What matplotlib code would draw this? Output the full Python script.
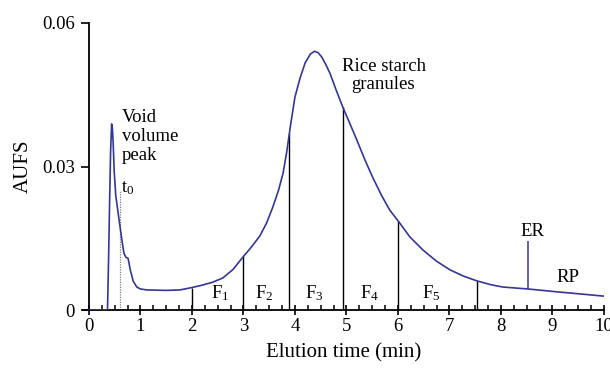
import matplotlib
matplotlib.use("Agg")
import matplotlib.pyplot as plt
from matplotlib.ticker import MultipleLocator

plt.rcParams.update({
    "font.family": ["Liberation Serif", "DejaVu Serif"],
    "mathtext.fontset": "custom",
    "mathtext.rm": "Liberation Serif",
    "mathtext.it": "Liberation Serif:italic",
    "font.size": 13.5,
})

# elution profile (min, AUFS)
time = [0.0, 0.36, 0.38, 0.40, 0.42, 0.44, 0.455, 0.47, 0.49, 0.52, 0.57,
        0.64, 0.68, 0.72, 0.76, 0.80, 0.86, 0.93, 1.0, 1.12, 1.5, 1.77,
        2.0, 2.2, 2.4, 2.6, 2.8, 3.0, 3.15, 3.32, 3.45, 3.57, 3.68, 3.77,
        3.84, 3.92, 4.0, 4.1, 4.2, 4.3, 4.38, 4.45, 4.52, 4.6, 4.68, 4.8,
        4.93, 5.05, 5.2, 5.35, 5.52, 5.68, 5.84, 6.02, 6.23, 6.49, 6.75,
        7.01, 7.27, 7.53, 7.8, 8.04, 8.52, 9.09, 9.6, 10.0]
aufs = [0.0, 0.0, 0.010, 0.022, 0.033, 0.0389, 0.038, 0.035, 0.029, 0.024,
        0.020, 0.0146, 0.0118, 0.0110, 0.0108, 0.0085, 0.0060, 0.0048,
        0.0044, 0.0042, 0.0041, 0.0042, 0.0047, 0.0052, 0.0058, 0.0067,
        0.0085, 0.0112, 0.0131, 0.0155, 0.0182, 0.0215, 0.025, 0.0286,
        0.033, 0.039, 0.0445, 0.0485, 0.0517, 0.0535, 0.0541, 0.0538,
        0.0529, 0.0513, 0.0495, 0.046, 0.0424, 0.0394, 0.0356, 0.0316,
        0.0275, 0.0240, 0.0209, 0.0184, 0.0153, 0.0125, 0.0102, 0.0084,
        0.0071, 0.0061, 0.0053, 0.0048, 0.0044, 0.0038, 0.0033, 0.0029]

# fraction cut points and the curve height there
cut_t = [2.0, 3.0, 3.88, 4.93, 6.0, 7.53]
cut_h = [0.0047, 0.0112, 0.037, 0.0424, 0.0186, 0.0061]
frac_labels = ["F$_1$", "F$_2$", "F$_3$", "F$_4$", "F$_5$"]
frac_x = [2.55, 3.4, 4.38, 5.45, 6.65]

er_t, er_lo, er_hi = 8.52, 0.0044, 0.0144
t0 = 0.6

blue = "#35359a"

fig = plt.figure(figsize=(6.1, 3.77), dpi=100)
ax = fig.add_axes([0.1357, 0.1777, 0.8543, 0.7613])

ax.plot(time, aufs, color=blue, lw=1.2, zorder=3)
ax.vlines(cut_t, 0, cut_h, color="black", lw=1.0)
ax.vlines(er_t, er_lo, er_hi, color=blue, lw=1.1)
ax.vlines(t0, 0, 0.025, color="grey", lw=0.9, linestyles=(0, (1, 1)))

for lab, x in zip(frac_labels, frac_x):
    ax.text(x, 0.0035, lab, ha="center", va="center")
ax.text(0.64, 0.0362, "Void\nvolume\npeak", ha="left", va="center",
        linespacing=1.15)
ax.text(0.62, 0.0255, "t$_0$", ha="left", va="center")
ax.text(5.72, 0.049, "Rice starch\ngranules", ha="center", va="center",
        linespacing=1.05)
ax.text(8.62, 0.0165, "ER", ha="center", va="center")
ax.text(9.3, 0.0068, "RP", ha="center", va="center")

ax.set_xlim(-0.12, 10)
ax.set_ylim(0, 0.06)
ax.spines["top"].set_visible(False)
ax.spines["right"].set_visible(False)
ax.spines["left"].set_position(("data", 0))
ax.spines["left"].set_linewidth(1.3)
ax.spines["bottom"].set_linewidth(1.3)

ax.set_xticks(range(0, 11))
ax.xaxis.set_minor_locator(MultipleLocator(0.25))
ax.set_yticks([0, 0.03, 0.06])
ax.set_yticklabels(["0", "0.03", "0.06"])
ax.tick_params(axis="x", which="major", direction="inout", length=7.5,
               width=1.2, pad=2)
ax.tick_params(axis="x", which="minor", direction="in", length=3.8, width=1.1)
ax.tick_params(axis="y", which="major", direction="out", length=6,
               width=1.2, pad=4)

ax.set_xlabel("Elution time (min)", fontsize=15, labelpad=6)
ax.set_ylabel("AUFS", fontsize=15, labelpad=7)

fig.savefig("out.png", dpi=100)
